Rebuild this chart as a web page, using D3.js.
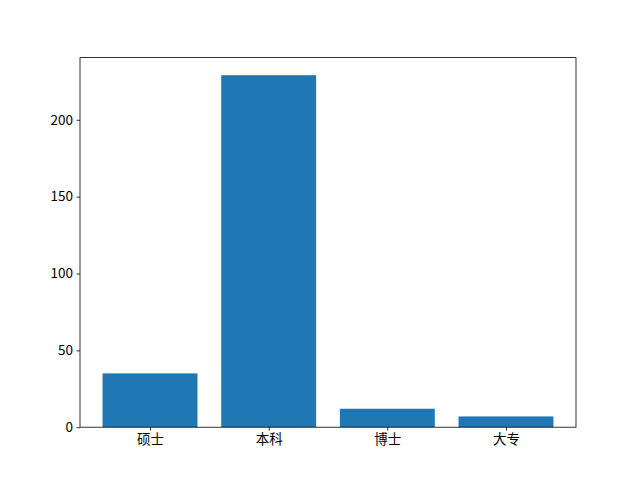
<!DOCTYPE html>
<html>
<head>
<meta charset="utf-8">
<script src="https://cdn.jsdelivr.net/npm/d3@7"></script>
<style>
  body { margin: 0; background: #fff; }
  text { font-family: "Noto Sans CJK SC", "DejaVu Sans", sans-serif; }
</style>
</head>
<body>
<svg width="640" height="480"></svg>
<script>
const categories = ["硕士", "本科", "博士", "大专"];
const counts = [35, 229, 12, 7];
const yTicks = [0, 50, 100, 150, 200];

const svg = d3.select("svg");
const plotLeft = 80, plotRight = 576, plotTop = 57.6, plotBottom = 427.2;

// same padding matplotlib puts round the bars
const x = d3.scaleLinear().domain([-0.59, categories.length - 1 + 0.59]).range([plotLeft, plotRight]);
const y = d3.scaleLinear().domain([0, d3.max(counts) * 1.05]).range([plotBottom, plotTop]);

svg.append("g").selectAll("rect")
    .data(counts)
    .enter().append("rect")
    .attr("x", function(d, i) { return x(i - 0.4); })
    .attr("y", function(d) { return y(d); })
    .attr("width", function(d, i) { return x(i + 0.4) - x(i - 0.4); })
    .attr("height", function(d) { return plotBottom - y(d); })
    .attr("fill", "#1f77b4");

const xAxis = d3.axisBottom(x)
    .tickValues(d3.range(categories.length))
    .tickFormat(function(d) { return categories[d]; })
    .tickSizeInner(3.5).tickSizeOuter(0).tickPadding(3.5);
const yAxis = d3.axisLeft(y)
    .tickValues(yTicks)
    .tickSizeInner(3.5).tickSizeOuter(0).tickPadding(3.5);

const gx = svg.append("g").attr("transform", "translate(0," + plotBottom + ")").call(xAxis);
const gy = svg.append("g").attr("transform", "translate(" + plotLeft + ",0)").call(yAxis);

[gx, gy].forEach(function(g) {
    g.select(".domain").remove();
    g.selectAll("line").attr("stroke", "#000").attr("stroke-width", 0.8);
    g.selectAll("text").attr("fill", "#000").style("font-size", "13.5px");
});

// frame
svg.append("rect")
    .attr("x", plotLeft).attr("y", plotTop)
    .attr("width", plotRight - plotLeft).attr("height", plotBottom - plotTop)
    .attr("fill", "none").attr("stroke", "#000").attr("stroke-width", 0.8);
</script>
</body>
</html>
